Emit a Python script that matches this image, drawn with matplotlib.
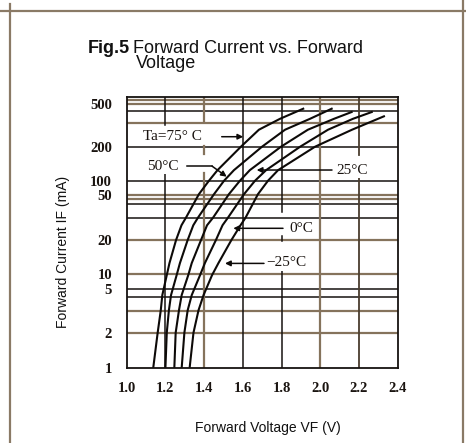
import numpy as np
import matplotlib
matplotlib.use('Agg')
import matplotlib.pyplot as plt
from matplotlib.lines import Line2D
from matplotlib.ticker import NullLocator

# values: forward voltage (V) vs forward current (mA)
if_levels = [1, 2, 3.2, 4.4, 9.5, 12.5, 20, 27, 31.5, 52, 100, 124, 200, 288]

vf_75 = [1.137, 1.160, 1.176, 1.184, 1.207, 1.221, 1.255, 1.283, 1.306, 1.373,
         1.425, 1.469, 1.590, 1.683, 1.792, 1.912]
if_75 = if_levels + [364, 452]

vf_50 = [1.200, 1.207, 1.218, 1.229, 1.258, 1.275, 1.315, 1.344, 1.368, 1.451,
         1.503, 1.554, 1.699, 1.818, 1.947, 2.059]
if_50 = if_levels + [364, 452]

vf_25 = [1.246, 1.253, 1.270, 1.284, 1.318, 1.336, 1.384, 1.415, 1.446, 1.528,
         1.585, 1.636, 1.797, 1.936, 2.071, 2.162]
if_25 = if_levels + [364, 421]

vf_0 = [1.284, 1.298, 1.315, 1.336, 1.379, 1.404, 1.461, 1.495, 1.523, 1.606,
        1.663, 1.720, 1.896, 2.040, 2.169, 2.266]
if_0 = if_levels + [364, 421]

vf_m25 = [1.325, 1.345, 1.371, 1.397, 1.441, 1.474, 1.541, 1.588, 1.614, 1.678,
          1.730, 1.782, 1.973, 2.164, 2.329]
if_m25 = if_levels + [384]

curves = [(vf_75, if_75), (vf_50, if_50), (vf_25, if_25), (vf_0, if_0), (vf_m25, if_m25)]

x_ticks = [1.0, 1.2, 1.4, 1.6, 1.8, 2.0, 2.2, 2.4]
x_labels = ['1.0', '1.2', '1.4', '1.6', '1.8', '2.0', '2.2', '2.4']
y_ticks = [1, 2, 5, 10, 20, 50, 100, 200, 500]
y_labels = ['1', '2', '5', '10', '20', '50', '100', '200', '500']

# the printed axis is not a true log axis: labelled values sit at these heights
knot_vals = np.log10([1, 2, 5, 10, 20, 50, 100, 200, 500, 580])
knot_frac = [0, 0.1303, 0.2915, 0.3469, 0.4723, 0.6384, 0.6911, 0.8166, 0.9742, 1.0]


def fwd(v):
    return np.interp(np.log10(np.clip(v, 1e-6, None)), knot_vals, knot_frac)


def inv(p):
    return 10 ** np.interp(p, knot_frac, knot_vals)


tan = '#85735c'
dark = '#161210'

fig = plt.figure(figsize=(4.66, 4.43), dpi=100)
ax = fig.add_axes([0.2719, 0.1693, 0.5815, 0.6117])
ax.set_yscale('function', functions=(fwd, inv))
ax.set_xlim(1.0, 2.4)
ax.set_ylim(1, 580)

# grid lines, two inks as in the scan
for v in [545, 500, 330, 50, 45.8, 20, 10, 3.17, 2]:
    ax.axhline(v, color=tan, lw=1.6, zorder=1)
for v in [433, 200, 100, 41.6, 31.1, 5, 4.26]:
    ax.axhline(v, color=dark, lw=1.1, zorder=1)

# vertical lines are broken where the curve labels were printed
ax.axvline(1.2, 0, 0.7196, color=dark, lw=1.1, zorder=1)
ax.axvline(1.2, 0.8967, 1, color=dark, lw=1.1, zorder=1)
ax.axvline(1.4, 0, 0.7196, color=tan, lw=1.6, zorder=1)
ax.axvline(1.4, 0.790, 0.820, color=tan, lw=1.6, zorder=1)
ax.axvline(1.4, 0.906, 1, color=tan, lw=1.6, zorder=1)
ax.axvline(1.6, color=dark, lw=1.1, zorder=1)
ax.axvline(1.8, 0, 0.3616, color=dark, lw=1.1, zorder=1)
ax.axvline(1.8, 0.4675, 0.486, color=dark, lw=1.1, zorder=1)
ax.axvline(1.8, 0.5768, 1, color=dark, lw=1.1, zorder=1)
ax.axvline(2.0, color=tan, lw=1.6, zorder=1)
ax.axvline(2.2, 0, 0.701, color='#4a3d2e', lw=1.3, zorder=1)
ax.axvline(2.2, 0.786, 1, color='#4a3d2e', lw=1.3, zorder=1)

for vf, i_f in curves:
    ax.plot(vf, i_f, color='#0d0a08', lw=1.5, zorder=3)

ax.set_xticks(x_ticks)
ax.set_xticklabels(x_labels)
ax.set_yticks(y_ticks)
ax.set_yticklabels(y_labels)
ax.yaxis.set_minor_locator(NullLocator())
ax.xaxis.set_minor_locator(NullLocator())
ax.tick_params(axis='both', length=0)
ax.tick_params(axis='x', pad=10)
ax.tick_params(axis='y', pad=10.5)
for lab in ax.get_xticklabels() + ax.get_yticklabels():
    lab.set_fontfamily('Liberation Serif')
    lab.set_fontweight('bold')
    lab.set_fontsize(10.5)
    lab.set_color('#1a1410')
for s in ax.spines.values():
    s.set_linewidth(1.3)
    s.set_color(dark)
    s.set_zorder(4)

# curve labels with pointer lines (axes fraction coordinates)
lab_kw = dict(transform=ax.transAxes, family='Liberation Serif', fontsize=11,
              color='#1a1410', ha='center', va='center', zorder=5,
              bbox=dict(facecolor='white', edgecolor='none', pad=1.0))
arr_kw = dict(arrowstyle='-|>', color='#0d0a08', lw=1.1, mutation_scale=8,
              shrinkA=0, shrinkB=0)

ax.text(0.167, 0.8535, 'Ta=75° C', **lab_kw)
ax.annotate('', xy=(0.430, 0.8535), xytext=(0.3506, 0.8535),
            xycoords='axes fraction', arrowprops=arr_kw, zorder=5)

ax.text(0.132, 0.745, '50°C', **lab_kw)
ax.plot([0.2214, 0.3148], [0.745, 0.745], transform=ax.transAxes,
        color='#0d0a08', lw=1.1, zorder=5)
ax.annotate('', xy=(0.369, 0.706), xytext=(0.3148, 0.745),
            xycoords='axes fraction', arrowprops=arr_kw, zorder=5)

ax.text(0.833, 0.7306, '25°C', **lab_kw)
ax.annotate('', xy=(0.4797, 0.7306), xytext=(0.7576, 0.7306),
            xycoords='axes fraction', arrowprops=arr_kw, zorder=5)

ax.text(0.645, 0.5155, '0°C', **lab_kw)
ax.annotate('', xy=(0.3934, 0.5155), xytext=(0.5768, 0.5155),
            xycoords='axes fraction', arrowprops=arr_kw, zorder=5)

ax.text(0.588, 0.3886, '−25°C', **lab_kw)
ax.annotate('', xy=(0.3627, 0.386), xytext=(0.5066, 0.386),
            xycoords='axes fraction', arrowprops=arr_kw, zorder=5)

# titles and axis captions
fig.text(0.189, 0.8804, 'Fig.5', family='Liberation Sans', fontweight='bold',
         fontsize=13, va='baseline', ha='left', color='#111')
fig.text(0.2854, 0.8804, 'Forward Current vs. Forward', family='Liberation Sans',
         fontsize=13, va='baseline', ha='left', color='#111')
fig.text(0.292, 0.8454, 'Voltage', family='Liberation Sans',
         fontsize=13, va='baseline', ha='left', color='#111')
fig.text(0.1352, 0.4318, 'Forward Current IF (mA)', family='Liberation Sans',
         fontsize=10, rotation=90, ha='center', va='center', color='#111')
fig.text(0.5758, 0.0339, 'Forward Voltage VF (V)', family='Liberation Sans',
         fontsize=10, ha='center', va='center', color='#111')

# page frame from the datasheet scan
frame = '#8a7a66'
fig.add_artist(Line2D([0.0215, 0.0215], [0, 0.99], transform=fig.transFigure,
                      color=frame, lw=1.6))
fig.add_artist(Line2D([0.9936, 0.9936], [0, 1], transform=fig.transFigure,
                      color=frame, lw=1.6))
fig.add_artist(Line2D([0, 1], [0.975, 0.975], transform=fig.transFigure,
                      color=frame, lw=1.6))

fig.savefig('out.png', dpi=100)
